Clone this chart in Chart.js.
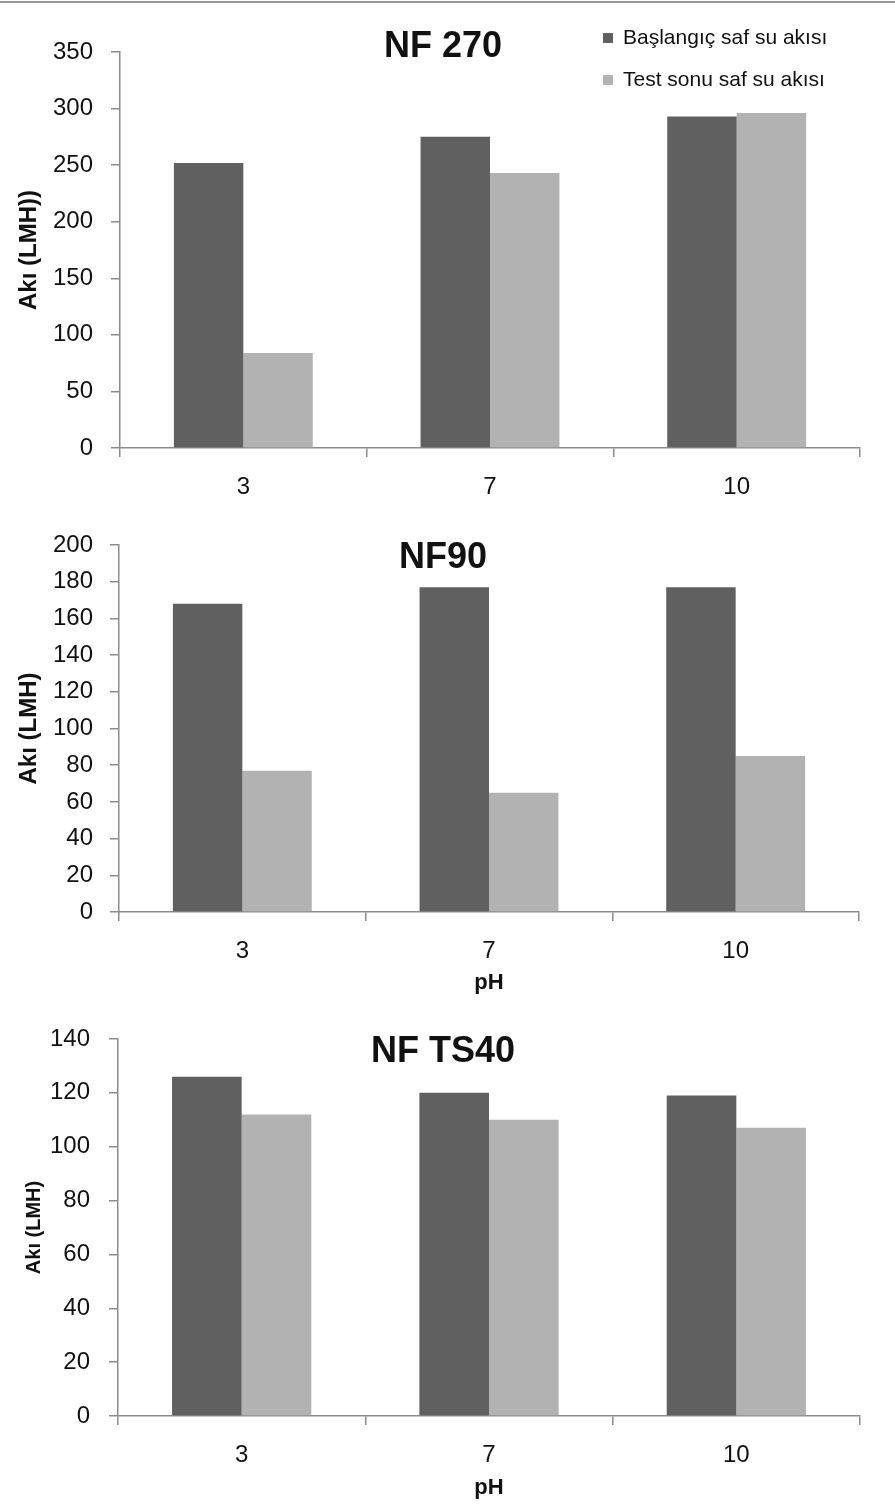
<!DOCTYPE html>
<html>
<head>
<meta charset="utf-8">
<script src="https://cdn.jsdelivr.net/npm/chart.js@4"></script>
<style>
  body { margin: 0; background: #fff; }
  .wrap { position: relative; width: 895px; height: 1508px; }
  .wrap canvas { position: absolute; left: 0; }
  .topline { position: absolute; left: 0; top: 1px; width: 895px; height: 2px; background: #979797; z-index: 2; }
</style>
</head>
<body>
<div class="wrap">
  <div class="topline"></div>
  <canvas id="chartNF270" width="895" height="505" style="top:0px"></canvas>
  <canvas id="chartNF90" width="895" height="495" style="top:505px"></canvas>
  <canvas id="chartTS40" width="895" height="508" style="top:1000px"></canvas>
</div>
<script>
  // datos
  const categories = ['3', '7', '10'];
  const seriesNames = ['Başlangıç saf su akısı', 'Test sonu saf su akısı'];
  const nf270Initial = [252, 275, 293];
  const nf270Final = [84, 243, 296];
  const nf90Initial = [168, 177, 177];
  const nf90Final = [77, 65, 85];
  const ts40Initial = [126, 120, 119];
  const ts40Final = [112, 110, 107];

  const darkGrey = '#606060';
  const lightGrey = '#b2b2b2';
  const axisGrey = '#8c8c8c';
  const textColor = '#111111';
  const fontFamily = "'Liberation Sans', Arial, sans-serif";

  // título dentro del área, como en Excel
  const overlayTitle = {
    id: 'overlayTitle',
    afterDraw(chart, args, opts) {
      const ctx = chart.ctx;
      ctx.save();
      ctx.font = 'bold 36px ' + fontFamily;
      ctx.fillStyle = textColor;
      ctx.textAlign = 'center';
      ctx.textBaseline = 'middle';
      ctx.fillText(opts.text, opts.x, opts.y);
      ctx.restore();
    }
  };

  // leyenda superpuesta arriba a la derecha
  const overlayLegend = {
    id: 'overlayLegend',
    afterDraw(chart, args, opts) {
      if (!opts.show) return;
      const ctx = chart.ctx;
      ctx.save();
      ctx.font = '21px ' + fontFamily;
      ctx.textBaseline = 'middle';
      chart.data.datasets.forEach((ds, i) => {
        const y = opts.y + i * opts.rowGap;
        ctx.fillStyle = ds.backgroundColor;
        ctx.fillRect(opts.x, y - 5, 10, 10);
        ctx.fillStyle = textColor;
        ctx.fillText(ds.label, opts.x + 20, y);
      });
      ctx.restore();
    }
  };

  function makeChart(id, initial, final, cfg) {
    const ctx = document.getElementById(id).getContext('2d');
    return new Chart(ctx, {
      type: 'bar',
      data: {
        labels: categories,
        datasets: [
          { label: seriesNames[0], data: initial, backgroundColor: darkGrey,
            categoryPercentage: 0.563, barPercentage: 1.0 },
          { label: seriesNames[1], data: final, backgroundColor: lightGrey,
            categoryPercentage: 0.563, barPercentage: 1.0 }
        ]
      },
      plugins: [overlayTitle, overlayLegend],
      options: {
        responsive: false,
        animation: false,
        layout: { padding: { top: cfg.top, right: cfg.right, left: 0, bottom: 0 } },
        plugins: {
          legend: { display: false },
          title: { display: false },
          tooltip: { enabled: false },
          overlayTitle: { text: cfg.title, x: 443, y: cfg.titleY },
          overlayLegend: { show: !!cfg.legend, x: 603, y: 38, rowGap: 42 }
        },
        scales: {
          x: {
            afterFit: (s) => { s.height = cfg.xHeight; },
            grid: { drawOnChartArea: false, drawTicks: true, tickLength: 9, color: axisGrey, lineWidth: 1.5, offset: true },
            border: { display: true, color: axisGrey, width: 1.5 },
            ticks: { color: textColor, padding: 16, font: { family: fontFamily, size: 24 } },
            title: {
              display: !!cfg.xTitle, text: cfg.xTitle || '', color: textColor,
              padding: { top: cfg.xTitlePad || 4, bottom: cfg.xTitlePad || 4 },
              font: { family: fontFamily, size: 22, weight: 'bold' }
            }
          },
          y: {
            min: 0, max: cfg.max,
            afterFit: (s) => { s.width = cfg.left; },
            grid: { drawOnChartArea: false, drawTicks: true, tickLength: 9, color: axisGrey, lineWidth: 1.5 },
            border: { display: true, color: axisGrey, width: 1.5 },
            ticks: { stepSize: cfg.step, color: textColor, padding: cfg.yPad, font: { family: fontFamily, size: 24 } },
            title: {
              display: true, text: cfg.yTitle, color: textColor,
              padding: { top: cfg.yTitlePad, bottom: cfg.yTitlePad },
              font: { family: fontFamily, size: cfg.yTitleSize, weight: 'bold' }
            }
          }
        }
      }
    });
  }

  // Gráfico 1: NF 270
  makeChart('chartNF270', nf270Initial, nf270Final, {
    title: 'NF 270', titleY: 47, legend: true,
    top: 52, right: 35, left: 120, xHeight: 57,
    max: 350, step: 50, yPad: 18,
    yTitle: 'Akı (LMH))', yTitleSize: 24, yTitlePad: 15
  });

  // Gráfico 2: NF90
  makeChart('chartNF90', nf90Initial, nf90Final, {
    title: 'NF90', titleY: 53,
    top: 40, right: 36, left: 119, xHeight: 88,
    max: 200, step: 20, yPad: 17,
    yTitle: 'Akı (LMH)', yTitleSize: 24, yTitlePad: 15,
    xTitle: 'pH', xTitlePad: 4
  });

  // Gráfico 3: NF TS40
  makeChart('chartTS40', ts40Initial, ts40Final, {
    title: 'NF TS40', titleY: 52,
    top: 39, right: 35, left: 118, xHeight: 92,
    max: 140, step: 20, yPad: 19,
    yTitle: 'Akı (LMH)', yTitleSize: 20, yTitlePad: 22,
    xTitle: 'pH', xTitlePad: 7
  });
</script>
</body>
</html>
